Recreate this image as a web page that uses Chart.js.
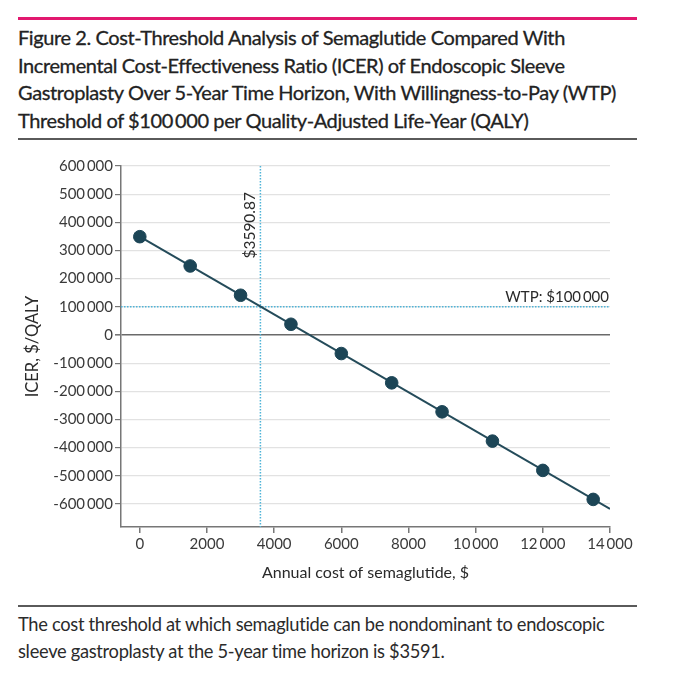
<!DOCTYPE html>
<html>
<head>
<meta charset="utf-8">
<script src="https://cdn.jsdelivr.net/npm/chart.js@4.4.1/dist/chart.umd.min.js"></script>
<style>
  html, body { margin:0; padding:0; background:#fff; }
  #page { position:relative; width:675px; height:680px; overflow:hidden; font-family:'Lato', sans-serif; color:#2a2a2a; }
  #pink { position:absolute; left:18px; top:17px; width:619px; height:3px; background:#e2186f; }
  #title { position:absolute; left:18px; top:24px; width:650px; font-size:20px; line-height:27.6px; color:#222; letter-spacing:-0.4px; -webkit-text-stroke:0.3px #222; }
  #rule1 { position:absolute; left:18px; top:138px; width:619px; height:2px; background:#5a5a5a; }
  #rule2 { position:absolute; left:18px; top:605px; width:619px; height:1.5px; background:#5a5a5a; }
  #foot { position:absolute; left:18px; top:611px; width:650px; font-size:18.3px; line-height:26.7px; color:#2b2b2b; letter-spacing:-0.3px; }
  #wrap { position:absolute; left:0; top:145px; width:675px; height:450px; }
</style>
</head>
<body>
<div id="page">
  <div id="pink"></div>
  <div id="title">Figure 2. Cost-Threshold Analysis of Semaglutide Compared With<br>Incremental Cost-Effectiveness Ratio (ICER) of Endoscopic Sleeve<br>Gastroplasty Over 5-Year Time Horizon, With Willingness-to-Pay (WTP)<br>Threshold of $100&#8201;000 per Quality-Adjusted Life-Year (QALY)</div>
  <div id="rule1"></div>
  <div id="wrap"><canvas id="c" width="675" height="450"></canvas></div>
  <div id="rule2"></div>
  <div id="foot">The cost threshold at which semaglutide can be nondominant to endoscopic<br>sleeve gastroplasty at the 5-year time horizon is $3591.</div>
</div>
<script>
// ---- data ----
const costs = [0, 1500, 3000, 4500, 6000, 7500, 9000, 10500, 12000, 13500];
const icer  = [349000, 245000, 141000, 38000, -66000, -170000, -273000, -377000, -481000, -584000];
const trendX = [0, 14000];
const trendY = [349000, -618000];
const thresholdCost = 3590.87;
const wtp = 100000;
const thresholdLabel = '$3590.87';
const wtpLabel = 'WTP: $100\u2009000';
const xTicks = [0, 2000, 4000, 6000, 8000, 10000, 12000, 14000];
const xTickLabels = ['0', '2000', '4000', '6000', '8000', '10\u2009000', '12\u2009000', '14\u2009000'];
const yTicks = [600000, 500000, 400000, 300000, 200000, 100000, 0, -100000, -200000, -300000, -400000, -500000, -600000];
const yTickLabels = ['600\u2009000','500\u2009000','400\u2009000','300\u2009000','200\u2009000','100\u2009000','0','-100\u2009000','-200\u2009000','-300\u2009000','-400\u2009000','-500\u2009000','-600\u2009000'];
const xTitle = 'Annual cost of semaglutide, $';
const yTitle = 'ICER, $/QALY';

const lineColor = '#244b5a';
const refColor = '#4fb4d8';

const refPlugin = {
  id: 'refs',
  beforeDatasetsDraw(chart) {
    const {ctx, chartArea: a, scales: {x, y}} = chart;
    ctx.save();
    ctx.strokeStyle = refColor;
    ctx.lineWidth = 1.5;
    ctx.setLineDash([1.5, 1.5]);
    const vx = x.getPixelForValue(thresholdCost);
    ctx.beginPath(); ctx.moveTo(vx, a.top); ctx.lineTo(vx, a.bottom); ctx.stroke();
    const hy = y.getPixelForValue(wtp);
    ctx.beginPath(); ctx.moveTo(a.left, hy); ctx.lineTo(a.right, hy); ctx.stroke();
    ctx.setLineDash([]);
    ctx.fillStyle = '#2a2a2a';
    ctx.font = '15px Lato';
    ctx.textAlign = 'right';
    ctx.textBaseline = 'bottom';
    ctx.fillText(wtpLabel, a.right - 1, hy - 2);
    ctx.font = '15.5px Lato';
    ctx.translate(vx - 10, a.top + 26);
    ctx.rotate(-Math.PI / 2);
    ctx.textAlign = 'right';
    ctx.textBaseline = 'middle';
    ctx.fillText(thresholdLabel, 0, 0);
    ctx.restore();
  }
};

new Chart(document.getElementById('c'), {
  type: 'scatter',
  data: {
    datasets: [
      {
        data: trendX.map((v, i) => ({x: v, y: trendY[i]})),
        showLine: true, borderColor: lineColor, borderWidth: 2, pointRadius: 0, order: 2
      },
      {
        data: costs.map((v, i) => ({x: v, y: icer[i]})),
        showLine: false, backgroundColor: '#1c4556', borderColor: '#1c4556',
        pointRadius: 6.3, pointHoverRadius: 6.3, order: 1
      }
    ]
  },
  options: {
    responsive: false,
    animation: false,
    devicePixelRatio: 1,
    layout: { padding: { top: 21, right: 65, left: 0, bottom: 0 } },
    plugins: { legend: { display: false }, tooltip: { enabled: false } },
    scales: {
      x: {
        type: 'linear', min: -560, max: 14000,
        afterBuildTicks: s => { s.ticks = xTicks.map(v => ({value: v})); },
        afterFit: s => { s.height = 68; },
        ticks: {
          callback: (v) => xTickLabels[xTicks.indexOf(v)],
          color: '#3a3a3a', font: { family: 'Lato', size: 15 }, padding: 2, maxRotation: 0, autoSkip: false
        },
        grid: { drawOnChartArea: false, drawTicks: true, tickLength: 6, color: '#777', lineWidth: 1.5 },
        border: { color: '#777', width: 1.5 },
        title: { display: true, text: xTitle, color: '#2a2a2a', font: { family: 'Lato', size: 16 }, padding: { top: 4, bottom: 13 } }
      },
      y: {
        type: 'linear', min: -682000, max: 600000,
        afterBuildTicks: s => { s.ticks = yTicks.map(v => ({value: v})); },
        afterFit: s => { s.width = 121; },
        ticks: {
          callback: (v) => yTickLabels[yTicks.indexOf(v)],
          color: '#3a3a3a', font: { family: 'Lato', size: 15 }, padding: 2, autoSkip: false
        },
        grid: {
          drawTicks: true, tickLength: 6,
          color: c => c.tick && c.tick.value === 0 ? '#6a6a6a' : '#e2e2e2',
          lineWidth: c => c.tick && c.tick.value === 0 ? 1.6 : 1.2,
          tickColor: '#777'
        },
        border: { color: '#777', width: 1.5 },
        title: { display: true, text: yTitle, color: '#2a2a2a', font: { family: 'Lato', size: 16.5 }, padding: { top: 23, bottom: 0 } }
      }
    }
  },
  plugins: [refPlugin]
});
</script>
</body>
</html>
